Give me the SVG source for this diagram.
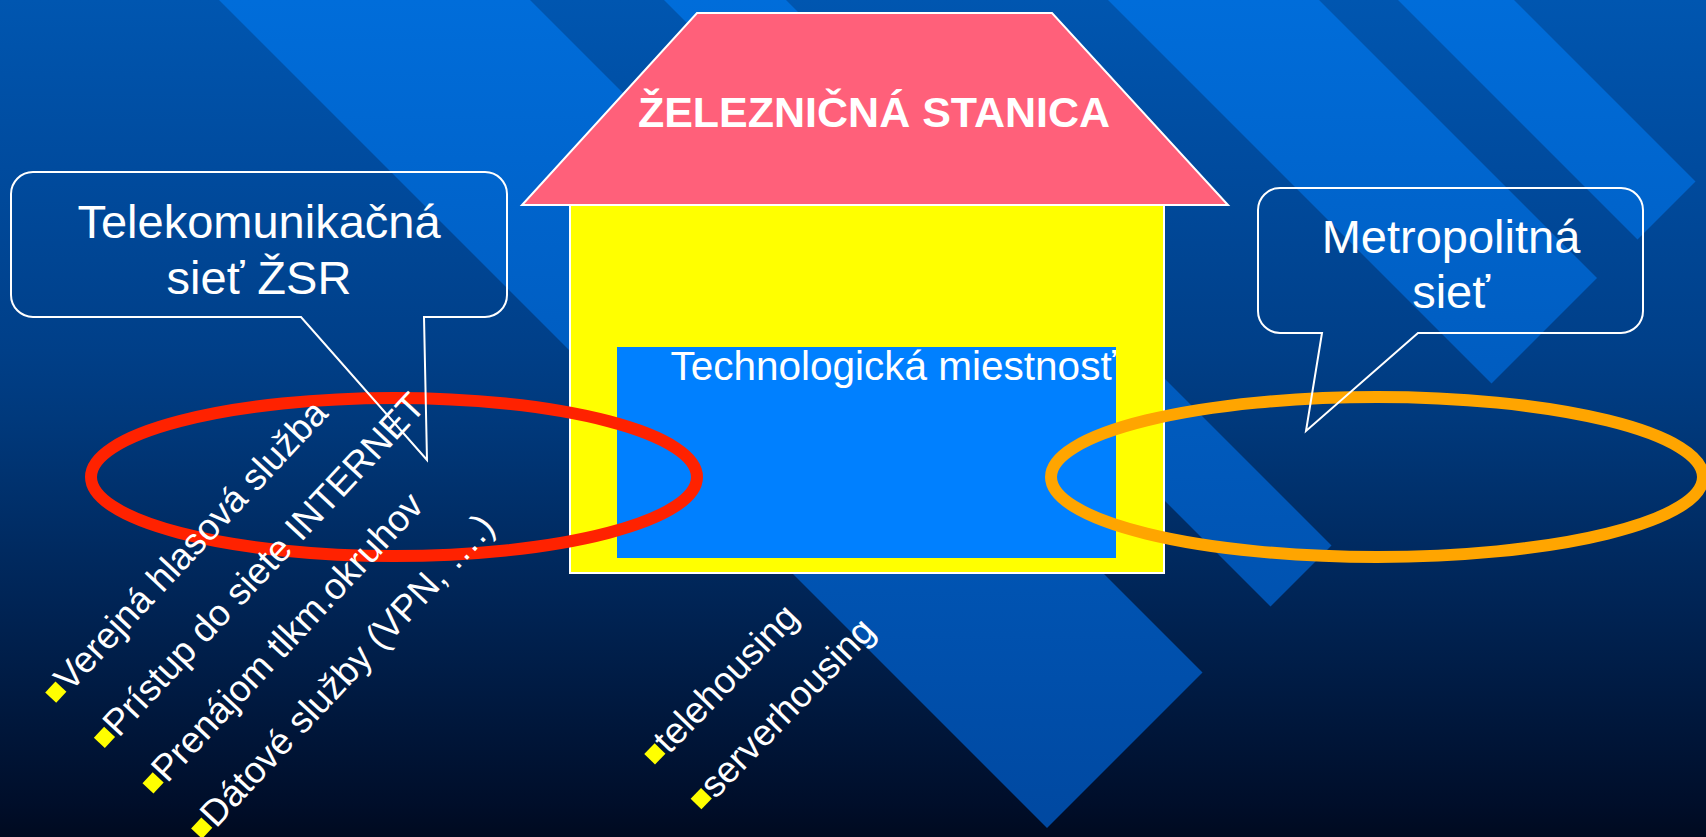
<svg xmlns="http://www.w3.org/2000/svg" width="1706" height="837" viewBox="0 0 1706 837">
  <defs>
    <linearGradient id="bg" x1="0" y1="0" x2="0" y2="837" gradientUnits="userSpaceOnUse">
      <stop offset="0" stop-color="#0056B0"/>
      <stop offset="0.2" stop-color="#004B9E"/>
      <stop offset="0.42" stop-color="#003F88"/>
      <stop offset="0.5" stop-color="#00397C"/>
      <stop offset="0.72" stop-color="#002455"/>
      <stop offset="0.96" stop-color="#000E2A"/>
      <stop offset="1" stop-color="#000A20"/>
    </linearGradient>
    <linearGradient id="band" x1="0" y1="0" x2="0" y2="837" gradientUnits="userSpaceOnUse">
      <stop offset="0" stop-color="#006DDA"/>
      <stop offset="1" stop-color="#0048A0"/>
    </linearGradient>
    <style>
      .band { fill: url(#band); }
      .callout { fill: none; stroke: #FFFFFF; stroke-width: 2; stroke-linejoin: miter; }
      .ctext { font-family: "Liberation Sans", Arial, sans-serif; font-size: 47px; fill: #FFFFFF; text-anchor: middle; }
      .btext { font-family: "Liberation Sans", Arial, sans-serif; font-size: 37px; fill: #FFFFFF; }
      .bullet { fill: #FFFF00; }
      .title { font-family: "Liberation Sans", Arial, sans-serif; font-size: 43px; font-weight: bold; fill: #FFFFFF; text-anchor: middle; }
      .room { font-family: "Liberation Sans", Arial, sans-serif; font-size: 40.5px; fill: #FFFFFF; text-anchor: middle; }
      .ring { fill: none; stroke-width: 12; }
    </style>
  </defs>

  <g id="background">
    <rect x="0" y="0" width="1706" height="837" fill="url(#bg)"/>
    <polygon class="band" points="209,-10 520,-10 1202.5,672.5 1047,828"/>
    <polygon class="band" points="654,-10 776,-10 1331.5,545.5 1270.5,606.5"/>
    <polygon class="band" points="1098,-10 1309,-10 1597,278 1491.5,383.5"/>
    <polygon class="band" points="1388,-10 1504,-10 1695.5,181.5 1637.5,239.5"/>
  </g>

  <g id="station">
    <rect x="570" y="205" width="594" height="368" fill="#FFFF00" stroke="#FFFFFF" stroke-width="2"/>
    <polygon points="697,13 1052,13 1228,205 522,205" fill="#FF607A" stroke="#FFFFFF" stroke-width="2" stroke-linejoin="miter"/>
    <text class="title" x="874" y="127">ŽELEZNIČNÁ STANICA</text>
  </g>

  <g id="tech-room">
    <rect x="617" y="347" width="499" height="211" fill="#0080FF"/>
    <text class="room" x="893" y="380">Technologická miestnosť</text>
  </g>

  <g id="ring-zsr">
    <ellipse class="ring" cx="394" cy="477" rx="303" ry="79" stroke="#FF2200"/>
  </g>

  <g id="ring-metro">
    <ellipse class="ring" cx="1377" cy="477" rx="326" ry="80" stroke="#FFA500"/>
  </g>

  <g id="services-zsr" transform="translate(70,693) rotate(-47)">
    <rect class="bullet" x="-16.5" y="-18.5" width="15" height="15"/>
    <text class="btext" x="0" y="0">Verejná hlasová služba</text>
    <rect class="bullet" x="-16.5" y="48" width="15" height="15"/>
    <text class="btext" x="0" y="66.5">Prístup do siete INTERNET</text>
    <rect class="bullet" x="-16.5" y="114.5" width="15" height="15"/>
    <text class="btext" x="0" y="133">Prenájom tlkm.okruhov</text>
    <rect class="bullet" x="-16.5" y="181" width="15" height="15"/>
    <text class="btext" x="0" y="199.5">Dátové služby (VPN, ….)</text>
  </g>

  <g id="services-housing" transform="translate(669,755) rotate(-46)">
    <rect class="bullet" x="-16.5" y="-18.5" width="15" height="15"/>
    <text class="btext" x="0" y="0">telehousing</text>
    <rect class="bullet" x="-16.5" y="46" width="15" height="15"/>
    <text class="btext" x="0" y="64.5">serverhousing</text>
  </g>

  <g id="callout-zsr">
    <path class="callout" d="M33,172 H485 A22,22 0 0 1 507,194 V295 A22,22 0 0 1 485,317 H424 L427,460 L301,317 H33 A22,22 0 0 1 11,295 V194 A22,22 0 0 1 33,172 Z"/>
    <text class="ctext" x="259" y="238">Telekomunikačná</text>
    <text class="ctext" x="259" y="294">sieť ŽSR</text>
  </g>

  <g id="callout-metro">
    <path class="callout" d="M1280,188 H1621 A22,22 0 0 1 1643,210 V311 A22,22 0 0 1 1621,333 H1418 L1306,431 L1322,333 H1280 A22,22 0 0 1 1258,311 V210 A22,22 0 0 1 1280,188 Z"/>
    <text class="ctext" x="1451" y="253">Metropolitná</text>
    <text class="ctext" x="1451" y="308">sieť</text>
  </g>

  <g id="connectors"></g>
</svg>
